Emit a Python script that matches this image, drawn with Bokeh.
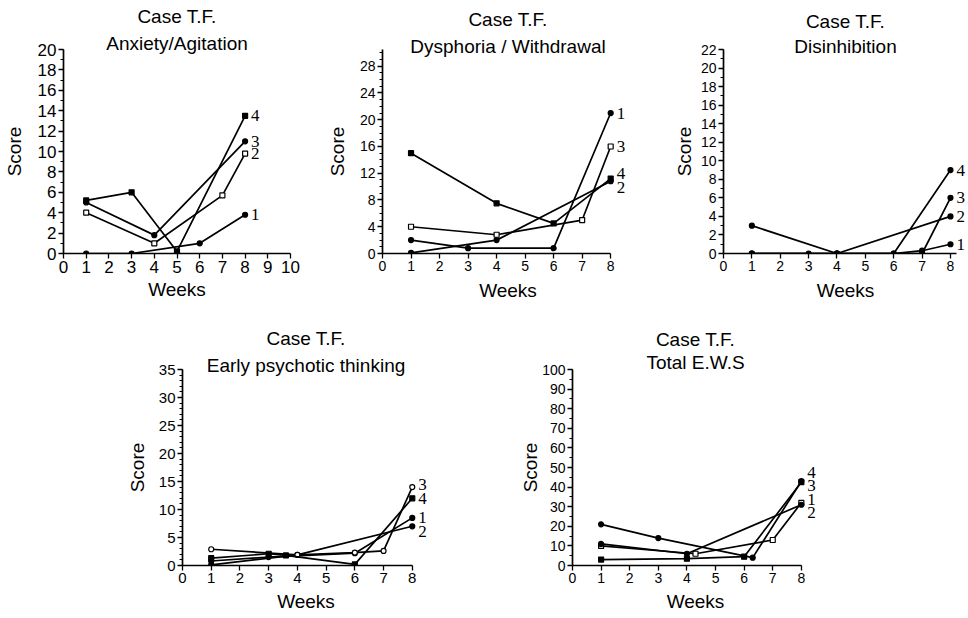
from bokeh.plotting import figure
from bokeh.models import Range1d, SingleIntervalTicker, Title, ColumnDataSource, Spacer
from bokeh.layouts import row, column
from bokeh.embed import file_html
from bokeh.resources import INLINE

FONT = "Liberation Sans"

series_names = ["1", "2", "3", "4"]
case_title = "Case T.F."
x_label = "Weeks"
y_label = "Score"

# Anxiety/Agitation
anx_weeks = [[1, 3, 6, 8], [1, 4, 7, 8], [1, 4, 8], [1, 3, 5, 8]]
anx_scores = [[0, 0, 1, 3.8], [4, 1, 5.7, 9.8], [5, 1.8, 11], [5.2, 6, 0.2, 13.5]]

# Dysphoria / Withdrawal
dys_weeks = [[1, 3, 6, 8], [1, 4, 8], [1, 4, 7, 8], [1, 4, 6, 8]]
dys_scores = [[2, 0.8, 0.8, 21], [0.1, 2, 10.8], [4, 2.8, 5, 16], [15, 7.5, 4.5, 11.2]]

# Disinhibition
dis_weeks = [[1, 3, 4, 6, 7, 8], [1, 4, 8], [1, 4, 7, 8], [1, 4, 6, 8]]
dis_scores = [[0, 0, 0, 0, 0.3, 1], [3, 0, 4], [0, 0, 0, 6], [0, 0, 0, 9]]

# Early psychotic thinking
epi_weeks = [[1, 3, 6, 8], [1, 4, 8], [1, 4, 6, 7, 8], [1, 3, 3.6, 6, 8]]
epi_scores = [[0.8, 1.5, 2.2, 8.5], [0.1, 1.9, 7], [2.9, 1.9, 2.3, 2.6, 14], [1.3, 2.1, 1.8, 0.2, 12]]

# Total E.W.S
ews_weeks = [[1, 4.3, 7, 8], [1, 4, 8], [1, 3, 6.3, 8], [1, 4, 6, 8]]
ews_scores = [[10, 6, 13, 32], [11, 6, 31], [21, 14, 4, 43], [3, 3.5, 4.5, 42.5]]


def add_titles(p, subtitle, title_standoff, line_height):
    try:
        ttl = Title(text=case_title + "\n" + subtitle, align="center", text_font=FONT,
                    text_font_size="19px", text_font_style="normal", text_color="black",
                    text_line_height=line_height, standoff=title_standoff)
        ttl.text_align = "center"
        p.add_layout(ttl, "above")
    except Exception:
        sub = Title(text=subtitle, align="center", text_font=FONT, text_font_size="19px",
                    text_font_style="normal", text_color="black", standoff=title_standoff)
        p.add_layout(sub, "above")
        case = Title(text=case_title, align="center", text_font=FONT, text_font_size="19px",
                     text_font_style="normal", text_color="black")
        p.add_layout(case, "above")


def panel(subtitle, weeks, scores, markers, fills, label_dy, *, x_end, x_max, y_end, y_max,
          y_step, y_minor, width, height, b_left, b_right, b_top, b_bottom, tick_px,
          ylab_standoff, xlab_standoff, title_standoff, line_height):
    p = figure(width=width, height=height, x_range=Range1d(0, x_end), y_range=Range1d(0, y_end),
               output_backend="svg", toolbar_location=None, title=None,
               min_border_left=b_left, min_border_right=b_right,
               min_border_top=b_top, min_border_bottom=b_bottom)
    p.outline_line_color = None
    p.xgrid.visible = False
    p.ygrid.visible = False
    p.background_fill_color = "white"
    p.border_fill_color = "white"

    add_titles(p, subtitle, title_standoff, line_height)

    p.xaxis.ticker = SingleIntervalTicker(interval=1, num_minor_ticks=0)
    p.xaxis.bounds = (0, x_max)
    p.yaxis.ticker = SingleIntervalTicker(interval=y_step, num_minor_ticks=y_minor)
    p.yaxis.bounds = (0, y_max)
    for ax in (p.xaxis, p.yaxis):
        ax.axis_line_width = 1.7
        ax.axis_line_color = "black"
        ax.major_tick_line_color = "black"
        ax.major_tick_line_width = 1.3
        ax.minor_tick_line_color = "black"
        ax.major_tick_out = 5
        ax.major_tick_in = 0
        ax.minor_tick_out = 3
        ax.minor_tick_in = 0
        ax.major_label_text_font = FONT
        ax.major_label_text_font_size = tick_px
        ax.major_label_text_color = "black"
        ax.major_label_standoff = 2
        ax.axis_label_text_font = FONT
        ax.axis_label_text_font_size = "19px"
        ax.axis_label_text_font_style = "normal"
        ax.axis_label_text_color = "black"
    p.xaxis.axis_label = x_label
    p.yaxis.axis_label = y_label
    p.xaxis.axis_label_standoff = xlab_standoff
    p.yaxis.axis_label_standoff = ylab_standoff

    for w, s, m, f in zip(weeks, scores, markers, fills):
        p.line(w, s, line_color="black", line_width=1.7)
        p.scatter(w, s, marker=m, size=5, fill_color=f, line_color="black", line_width=1.2)

    lab = ColumnDataSource(dict(
        x=[w[-1] for w in weeks],
        y=[s[-1] for s in scores],
        text=series_names,
        dy=label_dy,
    ))
    p.text(x="x", y="y", text="text", source=lab, x_offset=6, y_offset="dy",
           text_font=FONT, text_font_size="17px", text_baseline="middle",
           text_align="left", text_color="black")
    return p


p1 = panel("Anxiety/Agitation", anx_weeks, anx_scores,
           ["circle", "square", "circle", "square"], ["black", "white", "black", "black"],
           [0, 0, 0, 0],
           x_end=10, x_max=10, y_end=20, y_max=20, y_step=2, y_minor=2,
           width=310, height=305, b_left=60, b_right=20, b_top=49, b_bottom=52,
           tick_px="17px", ylab_standoff=10, xlab_standoff=3, title_standoff=-10,
           line_height=1.3)

p2 = panel("Dysphoria / Withdrawal", dys_weeks, dys_scores,
           ["circle", "circle", "square", "square"], ["black", "black", "white", "black"],
           [0, 6, 0, -5],
           x_end=8.8, x_max=8, y_end=30.5, y_max=30.5, y_step=4, y_minor=4,
           width=340, height=305, b_left=72, b_right=17, b_top=48, b_bottom=52,
           tick_px="14px", ylab_standoff=9, xlab_standoff=6, title_standoff=-16,
           line_height=1.33)

p3 = panel("Disinhibition", dis_weeks, dis_scores,
           ["circle", "circle", "circle", "circle"], ["black", "black", "black", "black"],
           [0, 0, 0, 0],
           x_end=8.6, x_max=8.2, y_end=22, y_max=22, y_step=2, y_minor=2,
           width=318, height=305, b_left=73, b_right=1, b_top=48, b_bottom=52,
           tick_px="14px", ylab_standoff=3, xlab_standoff=6, title_standoff=-16,
           line_height=1.2)

p4 = panel("Early psychotic thinking", epi_weeks, epi_scores,
           ["circle", "circle", "circle", "square"], ["black", "black", "white", "black"],
           [0, 5, -3, 0],
           x_end=8.6, x_max=8, y_end=35, y_max=35, y_step=5, y_minor=5,
           width=390, height=312, b_left=74, b_right=69, b_top=62, b_bottom=52,
           tick_px="15px", ylab_standoff=8, xlab_standoff=5, title_standoff=-13,
           line_height=1.3)

p5 = panel("Total E.W.S", ews_weeks, ews_scores,
           ["square", "circle", "circle", "square"], ["white", "black", "black", "black"],
           [-3, 8, 4, -10],
           x_end=8.6, x_max=8, y_end=100, y_max=100, y_step=10, y_minor=2,
           width=340, height=312, b_left=74, b_right=20, b_top=64, b_bottom=52,
           tick_px="14px", ylab_standoff=-2, xlab_standoff=5, title_standoff=-8,
           line_height=1.1)

layout = column(row(p1, p2, p3), row(Spacer(width=108, height=312), p4, p5))

open("out.html", "w").write(file_html(layout, INLINE))
